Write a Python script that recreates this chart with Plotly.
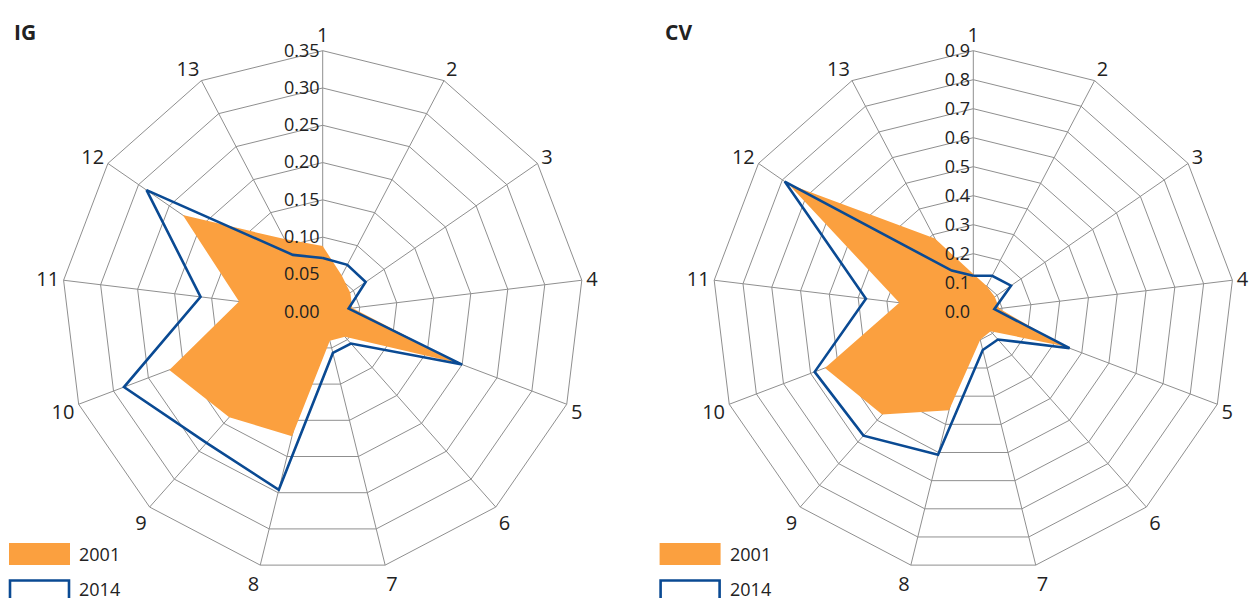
import plotly.graph_objects as go

W, H = 1249, 598

categories = [str(i) for i in range(1, 14)]

ig_2001 = [0.088, 0.055, 0.045, 0.040, 0.195, 0.045, 0.040, 0.172, 0.189, 0.220, 0.113, 0.228, 0.110]
ig_2014 = [0.072, 0.071, 0.070, 0.035, 0.200, 0.057, 0.057, 0.246, 0.235, 0.285, 0.165, 0.287, 0.086]

cv_2001 = [0.130, 0.100, 0.090, 0.090, 0.335, 0.090, 0.100, 0.350, 0.474, 0.547, 0.257, 0.775, 0.285]
cv_2014 = [0.124, 0.140, 0.158, 0.073, 0.355, 0.128, 0.136, 0.508, 0.571, 0.585, 0.373, 0.790, 0.160]

series_names = ["2001", "2014"]
panel_titles = ["IG", "CV"]

ORANGE = "#FBA03F"
BLUE = "#0A4A93"
GRID = "#8f8f8f"
FONT = "Open Sans"

fig = go.Figure()

panels = [
    ("polar", ig_2001, ig_2014),
    ("polar2", cv_2001, cv_2014),
]
for sub, s01, s14 in panels:
    fig.add_trace(go.Scatterpolar(
        r=s01 + [s01[0]], theta=categories + [categories[0]],
        mode="lines", fill="toself", fillcolor=ORANGE,
        line=dict(width=0, color=ORANGE), name=series_names[0],
        subplot=sub, showlegend=False, hoverinfo="skip"))
    fig.add_trace(go.Scatterpolar(
        r=s14 + [s14[0]], theta=categories + [categories[0]],
        mode="lines", line=dict(width=2.6, color=BLUE),
        name=series_names[1], subplot=sub, showlegend=False, hoverinfo="skip"))

R = 261.0
cy = 311.7
centers = [322.7, 973.3]

def dom(cx):
    return [(cx - R) / W, (cx + R) / W]

ydom = [(H - cy - R) / H, (H - cy + R) / H]

def angular():
    return dict(
        type="category", categoryarray=categories, rotation=90, direction="clockwise",
        showline=True, linecolor=GRID, linewidth=1, gridcolor=GRID, gridwidth=1,
        ticks="", tickfont=dict(family=FONT, size=20, color="#222222"), layer="above traces")

def radial(rng, dt, fmt):
    return dict(range=rng, dtick=dt, tickformat=fmt, angle=90, tickangle=90,
                showline=False, gridcolor=GRID, gridwidth=1, ticks="",
                tickfont=dict(family=FONT, size=18, color="#222222"),
                side="counterclockwise", layer="above traces")

fig.update_layout(
    width=W, height=H,
    margin=dict(l=0, r=0, t=0, b=0),
    paper_bgcolor="white",
    font=dict(family=FONT, color="#222222"),
    polar=dict(domain=dict(x=dom(centers[0]), y=ydom), gridshape="linear", bgcolor="white",
               angularaxis=angular(), radialaxis=radial([0, 0.35], 0.05, ".2f")),
    polar2=dict(domain=dict(x=dom(centers[1]), y=ydom), gridshape="linear", bgcolor="white",
                angularaxis=angular(), radialaxis=radial([0, 0.9], 0.1, ".1f")),
)

shapes = []
annotations = []
for i, cx in enumerate(centers):
    off = cx - centers[0]
    annotations.append(dict(x=(12 + off) / W, y=1 - 32 / H, xref="paper", yref="paper",
                            text="<b>%s</b>" % panel_titles[i], showarrow=False,
                            xanchor="left", yanchor="middle",
                            font=dict(family=FONT, size=21, color="#222222")))
    shapes.append(dict(type="rect", xref="paper", yref="paper", x0=(9 + off) / W, x1=(70 + off) / W,
                       y0=1 - 565 / H, y1=1 - 543 / H, fillcolor=ORANGE, line=dict(width=0)))
    shapes.append(dict(type="rect", xref="paper", yref="paper", x0=(10 + off) / W, x1=(69 + off) / W,
                       y0=1 - 602 / H, y1=1 - 580.5 / H, fillcolor="rgba(0,0,0,0)",
                       line=dict(width=2.6, color=BLUE)))
    for name, yc in zip(series_names, [554, 589]):
        annotations.append(dict(x=(77 + off) / W, y=1 - yc / H, xref="paper", yref="paper",
                                text=name, showarrow=False, xanchor="left", yanchor="middle",
                                font=dict(family=FONT, size=18, color="#222222")))

fig.update_layout(shapes=shapes, annotations=annotations)

fig.write_html("out.html", config={"displayModeBar": False},
               post_script="document.body.style.margin='0px';document.body.style.overflow='hidden';")
